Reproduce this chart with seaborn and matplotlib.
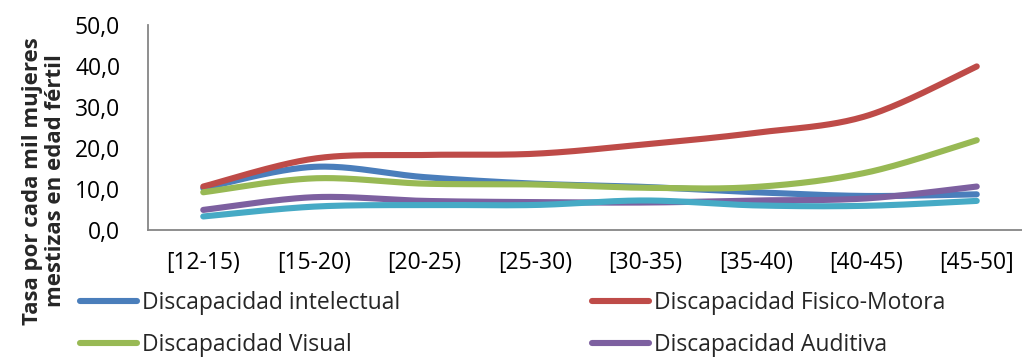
import numpy as np
import pandas as pd
import matplotlib
matplotlib.use("Agg")
import matplotlib.pyplot as plt
import seaborn as sns
from matplotlib.lines import Line2D

categories = ["[12-15)", "[15-20)", "[20-25)", "[25-30)", "[30-35)", "[35-40)", "[40-45)", "[45-50]"]
intelectual = [10.2, 15.4, 12.9, 11.3, 10.5, 9.2, 8.3, 8.7]
fisico_motora = [10.6, 17.4, 18.3, 18.6, 20.9, 23.7, 27.8, 39.9]
visual = [9.2, 12.6, 11.3, 11.1, 10.3, 10.5, 14.0, 21.9]
auditiva = [4.9, 8.0, 7.1, 6.8, 6.7, 7.2, 7.7, 10.6]
otra = [3.3, 5.7, 6.1, 6.1, 7.2, 6.0, 5.9, 7.1]

series = [
    ("Discapacidad intelectual", intelectual, "#4A7EBB"),
    ("Discapacidad Fisico-Motora", fisico_motora, "#BE4B48"),
    ("Discapacidad Visual", visual, "#98B954"),
    ("Discapacidad Auditiva", auditiva, "#7D60A0"),
    ("Discapacidad Psicológica", otra, "#46AAC5"),
]


def smooth(xs, ys, n=40):
    """Excel-like smoothed line (Catmull-Rom Bezier) through the data points."""
    xs = np.asarray(xs, float)
    ys = np.asarray(ys, float)
    P = np.column_stack([xs, ys])
    out = []
    for i in range(len(P) - 1):
        p0 = P[i - 1] if i > 0 else P[i]
        p1 = P[i]
        p2 = P[i + 1]
        p3 = P[i + 2] if i + 2 < len(P) else P[i + 1]
        c1 = p1 + (p2 - p0) / 6.0
        c2 = p2 - (p3 - p1) / 6.0
        t = np.linspace(0, 1, n)[:, None]
        seg = ((1 - t) ** 3) * p1 + 3 * ((1 - t) ** 2) * t * c1 + 3 * (1 - t) * t ** 2 * c2 + t ** 3 * p2
        out.append(seg if i == 0 else seg[1:])
    out = np.vstack(out)
    return out[:, 0], out[:, 1]


sns.set_theme(style="white")
plt.rcParams["font.family"] = ["Open Sans", "DejaVu Sans"]

W, H = 1022, 358
AX_L, AX_R, AX_T, AX_B = 148, 1032, 25, 230
fig = plt.figure(figsize=(W / 100, H / 100), dpi=100)
ax = fig.add_axes([AX_L / W, 1 - AX_B / H, (AX_R - AX_L) / W, (AX_B - AX_T) / H])

x = np.arange(len(categories))
for name, vals, color in series:
    sx, sy = smooth(x, vals)
    df = pd.DataFrame({"x": sx, "y": sy})
    sns.lineplot(data=df, x="x", y="y", ax=ax, color=color, linewidth=4.4,
                 sort=False, estimator=None, solid_capstyle="round")

FS = 16.5
ax.set_xlim(-0.5, len(categories) - 0.5)
ax.set_ylim(0, 50)
ax.set_xticks(x)
ax.set_xticklabels(categories)
ax.set_yticks(np.arange(0, 51, 10))
ax.set_yticklabels([f"{v:.1f}".replace(".", ",") for v in np.arange(0, 51, 10)])
ax.tick_params(axis="both", length=0, labelsize=FS, colors="#000000")
ax.tick_params(axis="x", pad=15)
ax.tick_params(axis="y", pad=20)
ax.set_xlabel("")
ax.set_ylabel("Tasa por cada mil mujeres\nmestizas en edad fértil", fontsize=16,
              fontweight="bold", linespacing=1.15)
ax.yaxis.set_label_coords((66 - AX_L) / (AX_R - AX_L), (AX_B - 181) / (AX_B - AX_T))
for side in ["top", "right"]:
    ax.spines[side].set_visible(False)
for side in ["left", "bottom"]:
    ax.spines[side].set_color("#868686")
    ax.spines[side].set_linewidth(1.3)

colors = {n: c for n, _, c in series}
col1 = ["Discapacidad intelectual", "Discapacidad Visual"]
col2 = ["Discapacidad Fisico-Motora", "Discapacidad Auditiva"]
for names, xpos in [(col1, 80), (col2, 592)]:
    handles = [Line2D([], [], color=colors[n], linewidth=4.4, solid_capstyle="round") for n in names]
    fig.legend(handles, names, loc="upper left", bbox_to_anchor=(xpos / W, 1 - 291 / H),
               frameon=False, fontsize=FS, handlelength=2.5, handletextpad=0.2,
               labelspacing=0.78, borderpad=0, borderaxespad=0)

fig.savefig("out.png", dpi=100)
